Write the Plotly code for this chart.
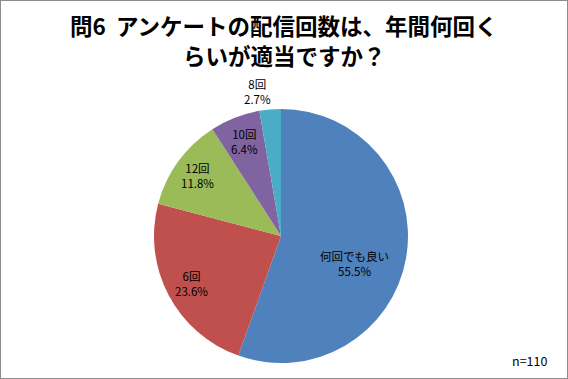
import math
import plotly.graph_objects as go

categories = ["何回でも良い", "6回", "12回", "10回", "8回"]
counts = [61, 26, 13, 7, 3]
percent_labels = ["55.5%", "23.6%", "11.8%", "6.4%", "2.7%"]
colors = ["#4F81BD", "#C0504D", "#9BBB59", "#8064A2", "#4BACC6"]
title_lines = ["問6  アンケートの配信回数は、年間何回く", "らいが適当ですか？"]
note_text = "n=110"

# label placement (style): distance from centre as fraction of radius, plus pixel nudges
label_radius = [0.66, 0.80, 0.81, 0.80, 1.14]
label_nudge = [(-9, 13), (0, 0), (0, 0), (0, 0), (-11, 0)]

W, H = 568, 379
cx, cy, r = 281, 236, 127

fig = go.Figure(go.Pie(
    labels=categories,
    values=counts,
    textinfo="none",
    sort=False,
    direction="clockwise",
    rotation=0,
    marker=dict(colors=colors, line=dict(color="white", width=0)),
    domain=dict(x=[(cx - r) / W, (cx + r) / W], y=[(H - cy - r) / H, (H - cy + r) / H]),
    showlegend=False,
    hoverinfo="label+percent",
))

annotations = []
for line, ty in zip(title_lines, [25, 55]):
    annotations.append(dict(
        text="<b>" + line + "</b>", x=0.5, y=1 - ty / H, xref="paper", yref="paper",
        xanchor="center", yanchor="middle", showarrow=False,
        font=dict(family="Noto Sans CJK JP", size=22.5, color="black")))
annotations.append(dict(
    text=note_text, x=549 / W, y=1 - 360 / H, xref="paper", yref="paper",
    xanchor="right", yanchor="middle", showarrow=False,
    font=dict(family="Noto Sans CJK JP", size=12.5, color="black")))

total = sum(counts)
cum = 0
for cat, val, pct, fr, (ndx, ndy) in zip(categories, counts, percent_labels, label_radius, label_nudge):
    mid = (cum + val / 2) / total * 2 * math.pi
    cum += val
    px = cx + fr * r * math.sin(mid) + ndx
    py = cy - fr * r * math.cos(mid) + ndy
    annotations.append(dict(
        text=f"{cat}<br>{pct}", x=px / W, y=1 - py / H, xref="paper", yref="paper",
        xanchor="center", yanchor="middle", showarrow=False, align="center",
        font=dict(family="Noto Sans CJK JP", size=11.5, color="black"),
    ))

fig.update_layout(
    width=W, height=H,
    margin=dict(l=0, r=0, t=0, b=0),
    paper_bgcolor="white",
    plot_bgcolor="white",
    annotations=annotations,
    shapes=[dict(type="rect", xref="paper", yref="paper", x0=0, x1=1, y0=0, y1=1,
                 line=dict(color="#8C8C8C", width=2))],
)

fig.write_html("out.html", config={"displayModeBar": False},
               post_script="document.body.style.margin='0';document.body.style.overflow='hidden';")
